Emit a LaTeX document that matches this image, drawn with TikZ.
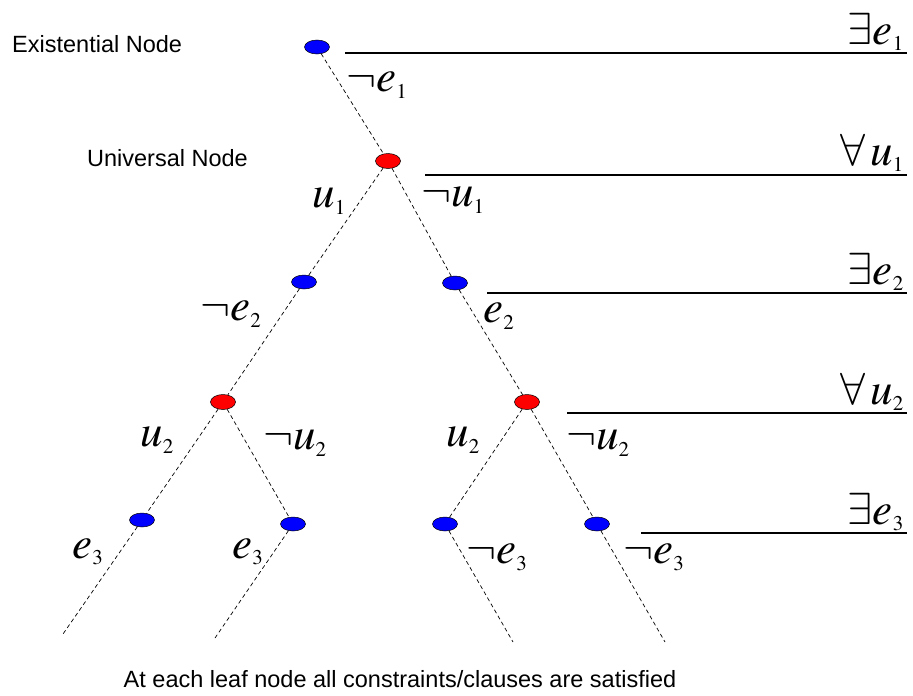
\documentclass[tikz,border=0pt]{standalone}
\usepackage[no-math]{fontspec}
\usepackage{mathptmx}
\usepackage{tikz}
\usetikzlibrary{shapes.geometric}
\newfontfamily\labelsans{Liberation Sans}
\DeclareMathSizes{45}{45}{21}{16}

\begin{document}
\begin{tikzpicture}[
  x=1pt, y=-1pt,
  enode/.style={ellipse, draw=black, line width=0.5pt, fill=blue, minimum width=25pt, minimum height=14pt, inner sep=0pt},
  unode/.style={ellipse, draw=black, line width=0.5pt, fill=red, minimum width=25pt, minimum height=15pt, inner sep=0pt},
  branch/.style={dashed, dash pattern=on 4pt off 3pt, line width=0.7pt, black},
  level/.style={line width=2.4pt, black},
  lbl/.style={font=\fontsize{45}{54}\selectfont, inner sep=0pt},
  quant/.style={lbl, anchor=base east},
  txt/.style={font=\labelsans\fontsize{23.5}{28}\selectfont, inner sep=0pt}
]
\useasboundingbox (0,0) rectangle (913,696);

% tree nodes
\node[enode] (e1) at (317,47) {};
\node[unode] (u1) at (388,161) {};
\node[enode] (e2l) at (304,282) {};
\node[enode] (e2r) at (455,283) {};
\node[unode] (u2l) at (223,402) {};
\node[unode] (u2r) at (527,402) {};
\node[enode] (e3a) at (142,520) {};
\node[enode] (e3b) at (293,524) {};
\node[enode] (e3c) at (445,524) {};
\node[enode] (e3d) at (597,524) {};
\coordinate (leafa) at (63,634);
\coordinate (leafb) at (215,638);
\coordinate (leafc) at (513,642);
\coordinate (leafd) at (665,642);

\draw[branch] (e1) -- (u1);
\draw[branch] (u1) -- (e2l);
\draw[branch] (u1) -- (e2r);
\draw[branch] (e2l) -- (u2l);
\draw[branch] (e2r) -- (u2r);
\draw[branch] (u2l) -- (e3a);
\draw[branch] (u2l) -- (e3b);
\draw[branch] (u2r) -- (e3c);
\draw[branch] (u2r) -- (e3d);
\draw[branch] (e3a) -- (leafa);
\draw[branch] (e3b) -- (leafb);
\draw[branch] (e3c) -- (leafc);
\draw[branch] (e3d) -- (leafd);

% quantifier levels
\coordinate (l1a) at (345,53);  \coordinate (l1b) at (907,53);
\coordinate (l2a) at (425,175); \coordinate (l2b) at (907,175);
\coordinate (l3a) at (487,293); \coordinate (l3b) at (907,293);
\coordinate (l4a) at (567,413); \coordinate (l4b) at (907,413);
\coordinate (l5a) at (641,533); \coordinate (l5b) at (907,533);
\draw[level] (l1a) -- (l1b);
\draw[level] (l2a) -- (l2b);
\draw[level] (l3a) -- (l3b);
\draw[level] (l4a) -- (l4b);
\draw[level] (l5a) -- (l5b);

\node[quant] (q1) at (904,44) {$\exists e_1$};
\node[quant] (q2) at (904,165) {$\forall\, u_1$};
\node[quant] (q3) at (904,284) {$\exists e_2$};
\node[quant] (q4) at (904,404) {$\forall\, u_2$};
\node[quant] (q5) at (904,524) {$\exists e_3$};

% branch labels
\node[lbl] (b1) at (377,85) {$\neg e_1$};
\node[lbl] (b2) at (329,201) {$u_1$};
\node[lbl] (b3) at (453,200) {$\neg u_1$};
\node[lbl] (b4) at (231,314) {$\neg e_2$};
\node[lbl] (b5) at (499,316) {$e_2$};
\node[lbl] (b6) at (157,440) {$u_2$};
\node[lbl] (b7) at (295,443) {$\neg u_2$};
\node[lbl] (b8) at (463,440) {$u_2$};
\node[lbl] (b9) at (598,443) {$\neg u_2$};
\node[lbl] (b10) at (88,552) {$e_3$};
\node[lbl] (b11) at (248,552) {$e_3$};
\node[lbl] (b12) at (497,557) {$\neg e_3$};
\node[lbl] (b13) at (654,557) {$\neg e_3$};

% legend texts
\node[txt, anchor=west] (exist) at (12,44) {Existential Node};
\node[txt, anchor=east] (univ) at (248,158) {Universal Node};
\node[txt] (leaves) at (400,679) {At each leaf node all constraints/clauses are satisfied};
\end{tikzpicture}
\end{document}
